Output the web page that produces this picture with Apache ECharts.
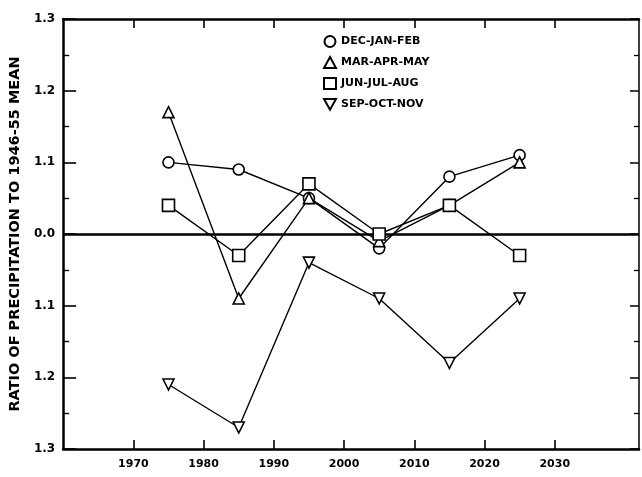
<!DOCTYPE html>
<html>
<head>
<meta charset="utf-8">
<script src="https://cdn.jsdelivr.net/npm/echarts@6/dist/echarts.min.js"></script>
<style>html,body{margin:0;padding:0;background:#fff}#c{width:642px;height:477px}</style>
</head>
<body>
<div id="c"></div>
<script>
var years = [1975, 1985, 1995, 2005, 2015, 2025];
var djf = [1.10, 1.09, 1.05, 0.98, 1.08, 1.11];
var mam = [1.17, 0.91, 1.05, 0.99, 1.04, 1.10];
var jja = [1.04, 0.97, 1.07, 1.00, 1.04, 0.97];
var son = [0.79, 0.73, 0.96, 0.91, 0.82, 0.91];
var seriesNames = ['DEC-JAN-FEB', 'MAR-APR-MAY', 'JUN-JUL-AUG', 'SEP-OCT-NOV'];
var xTickValues = [1970, 1980, 1990, 2000, 2010, 2020, 2030];
var yTickLabels = {13: '1.3', 12: '1.2', 11: '1.1', 10: '0.0', 9: '1.1', 8: '1.2', 7: '1.3'};
var yTitle = 'RATIO OF PRECIPITATION TO 1946-55 MEAN';

function pairs(vals) { return years.map(function (y, i) { return [y, vals[i]]; }); }
var FONT = 'DejaVu Sans';
var downTri = 'path://M0,0 L10,0 L5,9 Z';

function mk(name, vals, symbol, size, rotate) {
  return {
    name: name, type: 'line', data: pairs(vals),
    symbol: symbol, symbolSize: size, symbolRotate: rotate || 0,
    showSymbol: true,
    lineStyle: {color: '#000', width: 1.4},
    itemStyle: {color: '#fff', borderColor: '#000', borderWidth: 1.6},
    emphasis: {disabled: true},
    z: 5, animation: false
  };
}

var chart = echarts.init(document.getElementById('c'), null, {renderer: 'canvas'});
var series = [
  mk(seriesNames[0], djf, 'circle', 11),
  mk(seriesNames[1], mam, 'triangle', 11),
  mk(seriesNames[2], jja, 'rect', 12),
  mk(seriesNames[3], son, 'triangle', 11, 180)
];
series[0].markLine = {
  silent: true, symbol: ['none', 'none'], label: {show: false},
  lineStyle: {color: '#000', width: 2.6, type: 'solid'},
  data: [{yAxis: 1.0}], animation: false
};

chart.setOption({
  backgroundColor: '#fff',
  animation: false,
  grid: {left: 63, right: 3, top: 19, bottom: 28},
  legend: {
    orient: 'vertical', left: 318, top: 30,
    itemWidth: 12, itemHeight: 11, itemGap: 8,
    textStyle: {fontFamily: FONT, fontWeight: 'bold', fontSize: 11, color: '#000'},
    data: [
      {name: seriesNames[0], icon: 'circle'},
      {name: seriesNames[1], icon: 'triangle'},
      {name: seriesNames[2], icon: 'rect'},
      {name: seriesNames[3], icon: downTri}
    ],
    selectedMode: false
  },
  xAxis: [{
    type: 'value', min: 1960, max: 2042, interval: 10, position: 'bottom',
    splitLine: {show: false},
    axisLine: {lineStyle: {color: '#000', width: 2.5}},
    axisTick: {inside: true, length: 9, lineStyle: {color: '#000', width: 1.6}, customValues: xTickValues},
    axisLabel: {customValues: xTickValues, margin: 10, color: '#000', fontFamily: FONT, fontWeight: 'bold', fontSize: 11,
      formatter: function (v) { return String(v); }}
  }, {
    type: 'value', min: 1960, max: 2042, interval: 10, position: 'top',
    splitLine: {show: false},
    axisLine: {lineStyle: {color: '#000', width: 2.5}},
    axisTick: {inside: true, length: 9, lineStyle: {color: '#000', width: 1.6}, customValues: xTickValues},
    axisLabel: {show: false}
  }],
  yAxis: [{
    type: 'value', min: 0.7, max: 1.3, interval: 0.1, position: 'left',
    name: yTitle, nameLocation: 'middle', nameGap: 34, nameRotate: 90,
    nameTextStyle: {fontFamily: FONT, fontWeight: 'bold', fontSize: 14.5, color: '#000'},
    splitLine: {show: false},
    axisLine: {lineStyle: {color: '#000', width: 2.5}},
    axisTick: {inside: true, length: 13, lineStyle: {color: '#000', width: 1.6}},
    minorTick: {show: true, splitNumber: 2, length: 6, lineStyle: {color: '#000', width: 1.4}},
    axisLabel: {margin: 8, color: '#000', fontFamily: FONT, fontWeight: 'bold', fontSize: 12,
      formatter: function (v) { return yTickLabels[Math.round(v * 10)] || ''; }}
  }, {
    type: 'value', min: 0.7, max: 1.3, interval: 0.1, position: 'right',
    splitLine: {show: false},
    axisLine: {lineStyle: {color: '#000', width: 1.5}},
    axisTick: {inside: true, length: 9, lineStyle: {color: '#000', width: 1.5}},
    minorTick: {show: true, splitNumber: 2, length: 5, lineStyle: {color: '#000', width: 1.3}},
    axisLabel: {show: false}
  }],
  series: series
});
</script>
</body>
</html>
